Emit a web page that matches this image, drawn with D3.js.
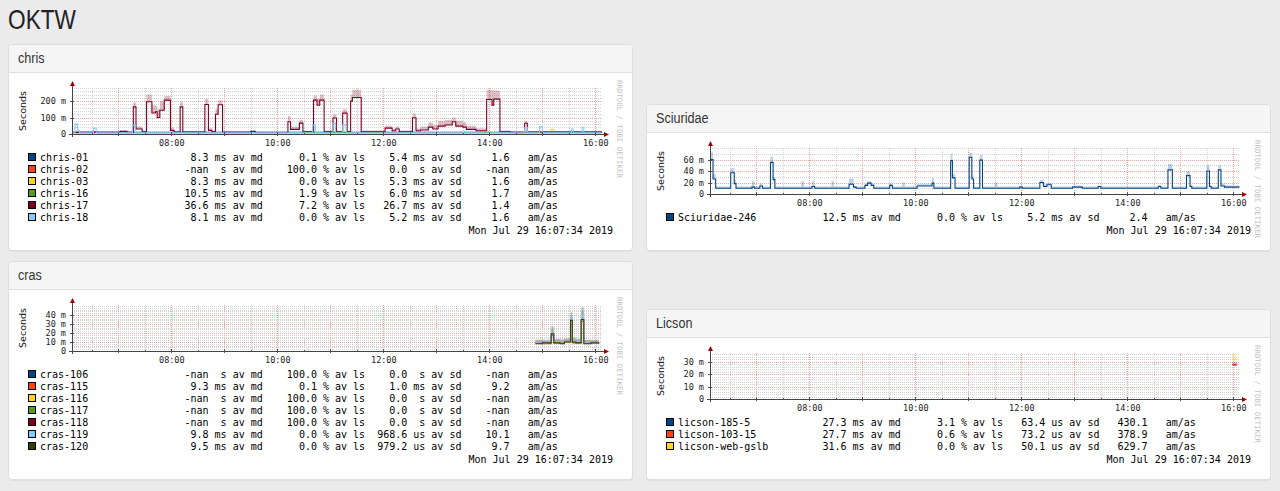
<!DOCTYPE html>
<html>
<head>
<meta charset="utf-8">
<script src="https://cdnjs.cloudflare.com/ajax/libs/d3/7.8.5/d3.min.js"></script>
<style>
html, body { margin: 0; padding: 0; background: #ebebeb; }
svg { display: block; }
</style>
</head>
<body>
<svg id="page"></svg>
<script>
// TIEMPO (ventana de 10 horas)
const tStart = "06:07:34";
const tEnd = "16:07:34";
const xTickLabels = ["08:00", "10:00", "12:00", "14:00", "16:00"];
const stamp = "Mon Jul 29 16:07:34 2019";

// CHRIS
const chrisHosts = ["chris-01", "chris-02", "chris-03", "chris-16", "chris-17", "chris-18"];
const chrisColors = ["#004586", "#ff420e", "#ffd320", "#579d1c", "#7e0021", "#83caff"];
const chrisMed = ["8.3 ms", "-nan s", "8.3 ms", "10.5 ms", "36.6 ms", "8.1 ms"];
const chrisLoss = ["0.1", "100.0", "0.0", "1.9", "7.2", "0.0"];
const chrisSd = ["5.4 ms", "0.0 s", "5.3 ms", "6.0 ms", "26.7 ms", "5.2 ms"];
const chrisAmas = ["1.6", "-nan", "1.6", "1.7", "1.4", "1.6"];
const chrisYTicks = [0, 100, 200];
const chrisYLabels = ["0", "100 m", "200 m"];
// [hora, mediana (ms), techo del humo (ms)]
const chris01 = [["06:08", 8], ["06:33", 14], ["06:36", 8], ["09:30", 16], ["09:35", 8], ["16:07", 8]];
const chris03 = [["06:08", 8], ["15:10", 28], ["15:13", 8], ["16:07", 8]];
const chris16 = [["06:08", 10], ["08:20", 11], ["10:40", 10], ["12:20", 11], ["14:30", 10], ["16:07", 10]];
const chris17 = [
  ["06:08", 10, 14], ["07:02", 16, 22], ["07:10", 10, 14], ["07:17", 165, 192], ["07:20", 30, 45],
  ["07:27", 14, 20], ["07:32", 196, 240], ["07:38", 128, 175], ["07:42", 135, 170], ["07:44", 100, 150],
  ["07:47", 145, 200], ["07:52", 206, 232], ["07:59", 22, 40], ["08:03", 12, 18], ["08:10", 165, 195],
  ["08:13", 12, 18], ["08:38", 180, 215], ["08:42", 22, 35], ["08:46", 14, 20], ["08:50", 120, 150],
  ["08:53", 178, 205], ["08:58", 10, 16], ["09:30", 14, 20], ["09:35", 9, 14], ["10:12", 75, 110],
  ["10:15", 28, 45], ["10:25", 66, 85], ["10:29", 14, 20], ["10:41", 206, 235], ["10:45", 175, 215],
  ["10:48", 206, 240], ["10:53", 14, 22], ["11:03", 97, 120], ["11:07", 14, 20], ["11:14", 127, 150],
  ["11:19", 14, 22], ["11:23", 200, 240], ["11:25", 222, 270], ["11:35", 14, 22], ["12:02", 36, 50],
  ["12:10", 20, 30], ["12:14", 30, 45], ["12:18", 14, 22], ["12:33", 99, 125], ["12:37", 20, 35],
  ["12:42", 24, 45], ["12:51", 42, 70], ["12:56", 30, 55], ["13:02", 48, 80], ["13:10", 55, 85],
  ["13:18", 75, 100], ["13:22", 48, 80], ["13:30", 42, 70], ["13:34", 28, 50], ["13:45", 20, 35],
  ["13:57", 210, 270], ["14:03", 176, 265], ["14:05", 212, 265], ["14:12", 14, 22], ["14:24", 10, 15],
  ["14:40", 65, 80], ["14:43", 12, 18], ["16:07", 8, 12]
];
const chris18 = [
  ["06:08", 8], ["06:11", 60], ["06:14", 20], ["06:16", 8], ["06:32", 36], ["06:35", 8],
  ["07:16", 54], ["07:19", 8], ["10:40", 54], ["10:43", 8], ["11:03", 66], ["11:06", 8],
  ["11:14", 54], ["11:18", 8], ["14:40", 40], ["14:43", 8], ["14:57", 45], ["15:00", 8],
  ["15:33", 30], ["15:35", 8], ["15:45", 40], ["15:47", 8], ["16:07", 8]
];

// SCIURIDAE
const sciHosts = ["Sciuridae-246"];
const sciColors = ["#004586"];
const sciMed = ["12.5 ms"];
const sciLoss = ["0.0"];
const sciSd = ["5.2 ms"];
const sciAmas = ["2.4"];
const sciYTicks = [0, 20, 40, 60];
const sciYLabels = ["0", "20 m", "40 m", "60 m"];
const sci246 = [
  ["06:08", 60, 72], ["06:11", 26, 35], ["06:14", 10, 13], ["06:31", 37, 45], ["06:35", 18, 25],
  ["06:37", 10, 13], ["06:55", 12, 22], ["06:58", 10, 13], ["07:04", 14, 18], ["07:07", 10, 13],
  ["07:16", 55, 65], ["07:19", 25, 30], ["07:21", 10, 13], ["07:51", 10, 22], ["07:54", 10, 13],
  ["08:03", 13, 22], ["08:06", 10, 13], ["08:25", 10, 22], ["08:28", 10, 13], ["08:45", 17, 27],
  ["08:50", 12, 14], ["08:53", 10, 13], ["09:03", 15, 18], ["09:06", 19, 22], ["09:10", 15, 18],
  ["09:13", 10, 13], ["09:31", 15, 18], ["09:34", 10, 13], ["09:45", 10, 20], ["09:48", 10, 13],
  ["10:02", 14, 17], ["10:19", 19, 28], ["10:21", 10, 13], ["10:40", 58, 70], ["10:42", 28, 35],
  ["10:45", 10, 13], ["11:01", 64, 72], ["11:04", 26, 32], ["11:06", 10, 13], ["11:13", 59, 68],
  ["11:16", 10, 13], ["11:30", 10, 20], ["11:33", 10, 13], ["11:58", 12, 15], ["12:01", 10, 13],
  ["12:21", 20, 25], ["12:25", 13, 17], ["12:29", 16, 19], ["12:34", 10, 13], ["12:58", 12, 15],
  ["13:09", 10, 13], ["13:27", 13, 15], ["13:30", 10, 13], ["14:35", 13, 16], ["14:38", 10, 13],
  ["14:46", 42, 52], ["14:51", 10, 13], ["15:07", 32, 40], ["15:11", 13, 16], ["15:13", 10, 13],
  ["15:30", 40, 50], ["15:33", 13, 16], ["15:35", 10, 13], ["15:43", 42, 50], ["15:46", 14, 18],
  ["15:50", 12, 15], ["16:07", 12, 15]
];

// CRAS
const crasHosts = ["cras-106", "cras-115", "cras-116", "cras-117", "cras-118", "cras-119", "cras-120"];
const crasColors = ["#004586", "#ff420e", "#ffd320", "#579d1c", "#7e0021", "#83caff", "#314004"];
const crasMed = ["-nan s", "9.3 ms", "-nan s", "-nan s", "-nan s", "9.8 ms", "9.5 ms"];
const crasLoss = ["100.0", "0.1", "100.0", "100.0", "100.0", "0.0", "0.0"];
const crasSd = ["0.0 s", "1.0 ms", "0.0 s", "0.0 s", "0.0 s", "968.6 us", "979.2 us"];
const crasAmas = ["-nan", "9.2", "-nan", "-nan", "-nan", "10.1", "9.7"];
const crasYTicks = [0, 10, 20, 30, 40];
const crasYLabels = ["0", "10 m", "20 m", "30 m", "40 m"];
const cras115 = [
  ["14:52", 9, 12], ["15:00", 8, 11], ["15:10", 17, 24], ["15:13", 9, 13], ["15:25", 10, 13],
  ["15:32", 30, 40], ["15:34", 9, 13], ["15:44", 33, 44], ["15:47", 9, 12], ["16:04", 9, 12]
];
const cras119 = [
  ["14:52", 9, 13], ["15:05", 10, 13], ["15:10", 21, 30], ["15:13", 10, 13], ["15:32", 38, 45],
  ["15:34", 11, 15], ["15:44", 40, 50], ["15:47", 9, 13], ["16:04", 9, 13]
];
const cras120 = [
  ["14:52", 8, 12], ["15:00", 9, 12], ["15:10", 19, 27], ["15:13", 9, 13], ["15:20", 8, 12],
  ["15:25", 10, 14], ["15:32", 34, 43], ["15:34", 10, 15], ["15:38", 9, 13], ["15:44", 35, 48],
  ["15:47", 8, 12], ["15:55", 9, 12], ["16:04", 8, 12]
];

// LICSON
const licHosts = ["licson-185-5", "licson-103-15", "licson-web-gslb"];
const licColors = ["#004586", "#ff420e", "#ffd320"];
const licMed = ["27.3 ms", "27.7 ms", "31.6 ms"];
const licLoss = ["3.1", "0.6", "0.0"];
const licSd = ["63.4 us", "73.2 us", "50.1 us"];
const licAmas = ["430.1", "378.9", "629.7"];
const licYTicks = [0, 10, 20, 30];
const licYLabels = ["0", "10 m", "20 m", "30 m"];
const lic185 = [["15:59", 27.3, 30], ["16:04", 27.3, 30]];
const lic103 = [["15:59", 27.7, 29], ["16:04", 27.7, 29]];
const licWeb = [["15:59", 31.6, 36], ["16:04", 31.6, 36]];

// UTILIDADES
const parseT = d3.timeParse("%Y-%m-%d %H:%M:%S");
const T = s => parseT("2019-07-29 " + (s.length === 5 ? s + ":00" : s));
const MONO = "DejaVu Sans Mono";
const GRID = "#d2d2d2", MGRID = "#f4a3a3";

const W = 1280, H = 491;
const svg = d3.select("#page").attr("width", W).attr("height", H);

// TITULO
svg.append("text")
  .attr("transform", "translate(8,29) scale(0.84,1)")
  .attr("font-family", "Liberation Sans, Arial, sans-serif")
  .attr("font-size", 27)
  .attr("fill", "#222")
  .text("OKTW");

// PANEL
function panel(px, py, h, title) {
  const g = svg.append("g").attr("transform", `translate(${px},${py})`);
  g.append("rect").attr("x", 0.5).attr("y", 1.5).attr("width", 624).attr("height", h - 1)
    .attr("rx", 3).attr("fill", "#d6d6d6");
  g.append("rect").attr("x", 0.5).attr("y", 0.5).attr("width", 624).attr("height", h - 1)
    .attr("rx", 3).attr("fill", "#fff").attr("stroke", "#dedede");
  g.append("path").attr("d", "M1,28 V4 Q1,1 4,1 H621 Q624,1 624,4 V28 Z").attr("fill", "#f5f5f5");
  g.append("line").attr("x1", 1).attr("x2", 624).attr("y1", 28.5).attr("y2", 28.5).attr("stroke", "#dedede");
  g.append("text")
    .attr("transform", "translate(10,19) scale(0.84,1)")
    .attr("font-family", "Liberation Sans, Arial, sans-serif")
    .attr("font-size", 15)
    .attr("fill", "#333")
    .text(title);
  return g.append("g").attr("transform", "translate(0,28)");
}

// LINEA DE LEYENDA (formato smokeping)
function legendLine(name, med, loss, sd, amas) {
  const [mv, mu] = med.split(" ");
  const [sv, su] = sd.split(" ");
  return name.padEnd(24) + mv.padStart(4) + " " + mu.padStart(2) + " av md" +
    loss.padStart(9) + " % av ls" + sv.padStart(7) + " " + su.padStart(2) + " av sd" +
    amas.padStart(8) + "   am/as";
}

let clipId = 0;

// GRAFICO RRD
function graph(body, cfg) {
  const L = 64, Z = 62, PH = 46, PW = 530;
  const x = d3.scaleTime().domain([T(tStart), T(tEnd)]).range([L, L + PW]);
  const y = d3.scaleLinear().domain([0, cfg.yMax]).range([Z, Z - PH]);
  const TOP = Z - PH;

  // rejilla
  const grid = body.append("g");
  const minorY = d3.range(cfg.yMinor, cfg.yMax + 0.001, cfg.yMinor).filter(v => !cfg.yTicks.includes(v));
  grid.selectAll(null).data(minorY).join("line")
    .attr("x1", L).attr("x2", L + PW)
    .attr("y1", d => Math.round(y(d)) + 0.5).attr("y2", d => Math.round(y(d)) + 0.5)
    .attr("stroke", GRID).attr("stroke-dasharray", "1,1");
  const vt = x.ticks(d3.timeMinute.every(30));
  grid.selectAll(null).data(vt.filter(d => d.getMinutes() !== 0)).join("line")
    .attr("x1", d => Math.round(x(d)) + 0.5).attr("x2", d => Math.round(x(d)) + 0.5)
    .attr("y1", TOP).attr("y2", Z)
    .attr("stroke", GRID).attr("stroke-dasharray", "1,1");
  grid.selectAll(null).data(cfg.yTicks.filter(v => v > 0)).join("line")
    .attr("x1", L).attr("x2", L + PW)
    .attr("y1", d => Math.round(y(d)) + 0.5).attr("y2", d => Math.round(y(d)) + 0.5)
    .attr("stroke", MGRID).attr("stroke-dasharray", "1,1");
  grid.selectAll(null).data(vt.filter(d => d.getMinutes() === 0)).join("line")
    .attr("x1", d => Math.round(x(d)) + 0.5).attr("x2", d => Math.round(x(d)) + 0.5)
    .attr("y1", TOP).attr("y2", Z)
    .attr("stroke", MGRID).attr("stroke-dasharray", "1,1");

  // datos
  const cid = "clip" + (clipId++);
  body.append("clipPath").attr("id", cid).append("rect")
    .attr("x", L).attr("y", TOP).attr("width", PW).attr("height", PH);
  const plot = body.append("g").attr("clip-path", `url(#${cid})`);

  const smoke = d3.area()
    .x(d => x(T(d[0])))
    .y0(d => y(d[1]))
    .y1(d => y(d.length > 2 ? d[2] : d[1]))
    .curve(d3.curveStepAfter);
  const line = d3.line()
    .x(d => x(T(d[0])))
    .y(d => y(d[1]))
    .curve(d3.curveStepAfter);

  const active = cfg.series.map((s, i) => ({ s, c: cfg.colors[i] })).filter(d => d.s);
  plot.selectAll(".smoke").data(active).join("path")
    .attr("d", d => smoke(d.s))
    .attr("fill", d => d.c).attr("fill-opacity", 0.25);
  plot.selectAll(".med").data(active).join("path")
    .attr("d", d => line(d.s))
    .attr("fill", "none").attr("stroke", d => d.c).attr("stroke-width", 1.1);

  // ejes
  body.append("g").attr("transform", `translate(0,${Z})`)
    .call(d3.axisBottom(x).tickValues(xTickLabels.map(T)).tickFormat(d3.timeFormat("%H:%M")).tickSize(0).tickPadding(6))
    .call(g => g.select(".domain").remove())
    .attr("font-family", MONO).attr("font-size", 8.5).attr("color", "#222");
  body.append("g").attr("transform", `translate(${L},0)`)
    .call(d3.axisLeft(y).tickValues(cfg.yTicks).tickFormat((d, i) => cfg.yLabels[i]).tickSize(0).tickPadding(6))
    .call(g => g.select(".domain").remove())
    .attr("font-family", MONO).attr("font-size", 8.5).attr("color", "#222");

  body.selectAll(null).data(vt).join("line")
    .attr("x1", d => Math.round(x(d)) + 0.5).attr("x2", d => Math.round(x(d)) + 0.5)
    .attr("y1", d => Z - (d.getMinutes() === 0 ? 2 : 1)).attr("y2", d => Z + (d.getMinutes() === 0 ? 2 : 1))
    .attr("stroke", "#555");
  body.selectAll(null).data(cfg.yTicks.filter(v => v > 0)).join("line")
    .attr("x1", L - 2).attr("x2", L + 2)
    .attr("y1", d => Math.round(y(d)) + 0.5).attr("y2", d => Math.round(y(d)) + 0.5)
    .attr("stroke", "#555");

  body.append("line").attr("x1", L - 3).attr("x2", L + PW + 2).attr("y1", Z + 0.5).attr("y2", Z + 0.5)
    .attr("stroke", "#444");
  body.append("line").attr("x1", L + 0.5).attr("x2", L + 0.5).attr("y1", Z + 3).attr("y2", TOP - 2)
    .attr("stroke", "#444");
  body.append("path")
    .attr("d", `M${L + PW + 7},${Z + 0.5} L${L + PW + 2},${Z - 2} L${L + PW + 2},${Z + 3} Z`)
    .attr("fill", "#a00000");
  body.append("path")
    .attr("d", `M${L + 0.5},${TOP - 7} L${L - 2},${TOP - 2} L${L + 3},${TOP - 2} Z`)
    .attr("fill", "#a00000");

  // etiqueta eje Y
  body.append("text")
    .attr("transform", `translate(17.5,${(Z + TOP) / 2}) rotate(-90)`)
    .attr("text-anchor", "middle")
    .attr("font-family", "DejaVu Sans")
    .attr("font-size", 9.5)
    .attr("fill", "#111")
    .text("Seconds");

  // marca de agua
  body.append("text")
    .attr("transform", "translate(609,8) rotate(90)")
    .attr("font-family", MONO)
    .attr("font-size", 7.4)
    .attr("fill", "#c2c2c2")
    .text("RRDTOOL / TOBI OETIKER");

  // leyenda
  const rows = cfg.hosts.map((h, i) => ({
    c: cfg.colors[i],
    t: legendLine(h, cfg.med[i], cfg.loss[i], cfg.sd[i], cfg.amas[i])
  }));
  const leg = body.append("g");
  leg.selectAll("rect").data(rows).join("rect")
    .attr("x", 20.5).attr("y", (d, i) => 85 + i * 12 - 3.5)
    .attr("width", 7).attr("height", 7)
    .attr("fill", d => d.c).attr("stroke", "#000");
  leg.selectAll("text").data(rows).join("text")
    .attr("x", 32).attr("y", (d, i) => 85 + i * 12 + 3.5)
    .attr("font-family", MONO).attr("font-size", 10).attr("fill", "#000")
    .style("white-space", "pre")
    .text(d => d.t);
  leg.append("text")
    .attr("x", 605).attr("y", 85 + rows.length * 12 + 4.5)
    .attr("text-anchor", "end")
    .attr("font-family", MONO).attr("font-size", 10).attr("fill", "#000")
    .text(stamp);
}

function panelHeight(n) { return 28 + 85 + 12 * (n - 1) + 13 + 21; }

// COLUMNA IZQUIERDA / DERECHA (alineadas abajo por fila)
const row1Bottom = 251, row2Bottom = 480;

graph(panel(8, row1Bottom - panelHeight(chrisHosts.length), panelHeight(chrisHosts.length), "chris"), {
  yMax: 280, yMinor: 20, yTicks: chrisYTicks, yLabels: chrisYLabels,
  hosts: chrisHosts, colors: chrisColors, med: chrisMed, loss: chrisLoss, sd: chrisSd, amas: chrisAmas,
  series: [chris01, null, chris03, chris16, chris17, chris18]
});

graph(panel(646, row1Bottom - panelHeight(sciHosts.length), panelHeight(sciHosts.length), "Sciuridae"), {
  yMax: 80, yMinor: 10, yTicks: sciYTicks, yLabels: sciYLabels,
  hosts: sciHosts, colors: sciColors, med: sciMed, loss: sciLoss, sd: sciSd, amas: sciAmas,
  series: [sci246]
});

graph(panel(8, row2Bottom - panelHeight(crasHosts.length), panelHeight(crasHosts.length), "cras"), {
  yMax: 51, yMinor: 2, yTicks: crasYTicks, yLabels: crasYLabels,
  hosts: crasHosts, colors: crasColors, med: crasMed, loss: crasLoss, sd: crasSd, amas: crasAmas,
  series: [null, cras115, null, null, null, cras119, cras120]
});

graph(panel(646, row2Bottom - panelHeight(licHosts.length), panelHeight(licHosts.length), "Licson"), {
  yMax: 37, yMinor: 2, yTicks: licYTicks, yLabels: licYLabels,
  hosts: licHosts, colors: licColors, med: licMed, loss: licLoss, sd: licSd, amas: licAmas,
  series: [lic185, lic103, licWeb]
});
</script>
</body>
</html>
